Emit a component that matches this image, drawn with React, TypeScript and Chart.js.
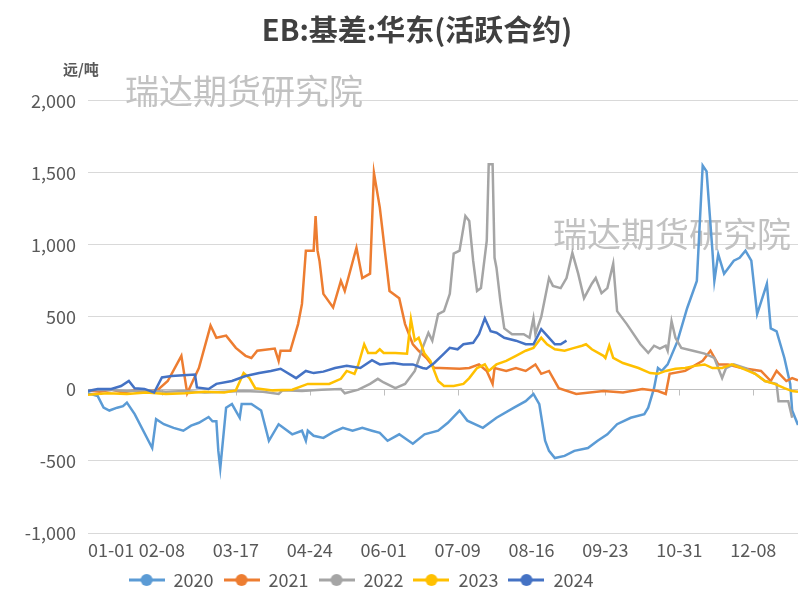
import React, { useEffect, useRef } from "react";
import { Chart, registerables } from "chart.js";

Chart.register(...registerables);

// ---------- categories (leap-year calendar, MM-DD) ----------
const monthLengths = [31, 29, 31, 30, 31, 30, 31, 31, 30, 31, 30, 31];
const dateLabels: string[] = [];
monthLengths.forEach((n, m) => {
  for (let d = 1; d <= n; d++) {
    dateLabels.push(`${String(m + 1).padStart(2, "0")}-${String(d).padStart(2, "0")}`);
  }
});
const xTickDays = [0, 38, 76, 114, 152, 190, 228, 266, 304, 342];
const xLastDay = 365;
const yTicks = [-1000, -500, 0, 500, 1000, 1500, 2000];

const title = "EB:基差:华东(活跃合约)";
const unitLabel = "远/吨";
const watermark = "瑞达期货研究院";
const seriesNames = ["2020", "2021", "2022", "2023", "2024"];
const seriesColors = ["#5B9BD5", "#ED7D31", "#A5A5A5", "#FFC000", "#4472C4"];

// ---------- series: [day of year index, value] ----------
const s2020: [number, number][] = [
  [0, -30], [5, -50], [8, -130], [11, -150], [15, -130], [18, -120], [20, -95], [24, -175],
  [33, -410], [35, -210], [39, -245], [44, -270], [49, -290], [53, -255], [57, -235], [62, -195],
  [64, -225], [66, -225], [67, -430], [68, -550], [71, -130], [74, -105], [78, -200], [79, -105],
  [84, -105], [89, -150], [93, -360], [98, -245], [105, -315], [110, -290], [112, -360], [113, -290],
  [116, -325], [121, -340], [126, -300], [131, -270], [136, -290], [141, -270], [146, -290], [150, -305],
  [154, -360], [160, -315], [167, -380], [173, -315], [180, -290], [185, -235], [191, -150], [195, -220],
  [203, -270], [210, -200], [219, -130], [225, -85], [229, -35], [232, -105], [235, -360], [237, -430],
  [240, -480], [245, -465], [250, -430], [257, -410], [262, -360], [267, -315], [272, -245], [279, -200],
  [286, -175], [288, -130], [291, 5], [293, 145], [295, 125], [298, 170], [303, 330], [308, 560],
  [313, 750], [316, 1550], [318, 1510], [321, 960], [322, 750], [324, 935], [327, 800], [332, 890],
  [335, 910], [338, 960], [341, 890], [344, 520], [349, 730], [351, 420], [354, 400], [358, 215],
  [361, 35], [362, -150], [365, -250],
];
const s2021: [number, number][] = [
  [0, -10], [6, -20], [12, -5], [18, -25], [24, -10], [30, -20], [36, -5], [41, 55], [48, 230],
  [51, -30], [57, 145], [63, 440], [66, 355], [71, 370], [76, 285], [81, 230], [84, 215], [87, 265],
  [96, 280], [98, 195], [99, 265], [104, 265], [108, 450], [110, 590], [112, 960], [116, 960],
  [117, 1200], [118, 960], [119, 890], [121, 660], [126, 565], [130, 750], [132, 680], [138, 980],
  [141, 770], [145, 800], [147, 1500], [150, 1260], [151, 1145], [155, 680], [160, 630], [163, 450],
  [167, 310], [170, 265], [174, 215], [178, 145], [181, 145], [191, 140], [196, 145], [201, 170],
  [205, 125], [208, 35], [209, 145], [215, 125], [220, 145], [225, 125], [230, 170], [233, 105],
  [237, 125], [242, 5], [251, -35], [265, -15], [275, -25], [285, 0], [293, -15], [297, -35],
  [299, 105], [307, 125], [316, 195], [320, 265], [324, 170], [329, 170], [336, 145], [346, 125],
  [351, 55], [354, 125], [359, 55], [362, 75], [365, 60],
];
const s2022: [number, number][] = [
  [0, -10], [10, -5], [20, -15], [30, -10], [40, -20], [50, -15], [60, -25], [70, -20], [80, -15],
  [90, -20], [98, -35], [100, -10], [110, -15], [120, -5], [130, 0], [132, -30], [139, -5],
  [145, 35], [149, 70], [152, 45], [158, 5], [163, 35], [168, 125], [172, 285], [175, 390],
  [177, 335], [180, 520], [183, 540], [186, 660], [188, 940], [191, 960], [194, 1200], [196, 1165],
  [198, 890], [200, 680], [202, 700], [205, 1030], [206, 1560], [208, 1560], [209, 910], [210, 840],
  [212, 610], [214, 420], [218, 380], [224, 380], [227, 355], [229, 490], [230, 380], [233, 500],
  [237, 770], [239, 715], [243, 700], [246, 770], [249, 945], [252, 800], [255, 630], [259, 730],
  [261, 770], [264, 665], [267, 700], [270, 870], [272, 540], [277, 450], [284, 310], [288, 250],
  [291, 300], [294, 280], [297, 300], [298, 265], [300, 470], [302, 355], [305, 285], [311, 265],
  [317, 245], [322, 215], [326, 75], [328, 145], [332, 170], [338, 145], [343, 105], [348, 55],
  [354, 35], [355, -85], [360, -85], [362, -200],
];
const s2023: [number, number][] = [
  [0, -40], [10, -30], [20, -35], [30, -25], [40, -35], [50, -30], [60, -20], [70, -25], [76, -10],
  [80, 110], [83, 75], [86, 5], [95, -10], [105, -5], [113, 35], [124, 35], [130, 70], [133, 125],
  [137, 105], [139, 170], [142, 310], [144, 250], [148, 250], [150, 275], [152, 250], [158, 250],
  [164, 245], [166, 485], [168, 335], [170, 355], [173, 245], [176, 195], [180, 55], [183, 20],
  [188, 20], [193, 35], [196, 75], [200, 145], [204, 170], [206, 125], [210, 170], [215, 195],
  [220, 230], [225, 265], [229, 285], [233, 355], [236, 310], [240, 275], [245, 265], [250, 285],
  [254, 300], [256, 310], [259, 275], [265, 230], [266, 215], [268, 300], [270, 215], [275, 180],
  [283, 145], [289, 110], [293, 105], [297, 125], [302, 140], [307, 145], [312, 160], [317, 170],
  [321, 145], [326, 145], [331, 170], [336, 145], [343, 105], [348, 55], [353, 35], [358, 5],
  [362, -15], [365, -20],
];
const s2024: [number, number][] = [
  [0, -15], [5, 0], [12, 0], [17, 20], [21, 55], [24, 5], [29, 0], [34, -25], [38, 80], [43, 90],
  [49, 95], [55, 100], [56, 10], [62, 0], [66, 35], [74, 55], [81, 90], [88, 110], [94, 125],
  [99, 140], [107, 75], [112, 125], [116, 110], [121, 120], [127, 145], [133, 160], [140, 145],
  [146, 200], [150, 170], [157, 180], [162, 170], [167, 170], [172, 145], [174, 140], [178, 180],
  [183, 245], [186, 285], [190, 275], [193, 310], [198, 320], [201, 380], [204, 490], [207, 400],
  [210, 390], [214, 355], [220, 335], [225, 310], [229, 310], [233, 415], [236, 370], [240, 310],
  [243, 310], [246, 335],
];
const allSeries = [s2020, s2021, s2022, s2023, s2024];

const FONT = '"Noto Sans CJK SC", "Noto Sans", sans-serif';

function makeMarker(color: string): HTMLCanvasElement {
  const c = document.createElement("canvas");
  c.width = 36;
  c.height = 14;
  const g = c.getContext("2d")!;
  g.strokeStyle = color;
  g.lineWidth = 3;
  g.beginPath();
  g.moveTo(0, 7);
  g.lineTo(36, 7);
  g.stroke();
  g.fillStyle = color;
  g.beginPath();
  g.arc(18, 7, 6, 0, Math.PI * 2);
  g.fill();
  return c;
}

const decorPlugin = {
  id: "decor",
  afterLayout(chart: any) {
    const lg = chart.legend;
    if (lg) {
      lg.left -= 41;
      lg.right -= 41;
    }
    const tb = chart.titleBlock;
    if (tb) {
      tb.left += 15;
      tb.right += 15;
    }
  },
  beforeDatasetsDraw(chart: any) {
    const { ctx, chartArea, scales } = chart;
    ctx.save();
    ctx.font = `34px ${FONT}`;
    ctx.fillStyle = "#c2c2c2";
    ctx.textBaseline = "middle";
    ctx.textAlign = "left";
    ctx.fillText(watermark, 125, 91);
    ctx.fillText(watermark, 553, 234);
    const y0 = Math.round(scales.y.getPixelForValue(0)) + 0.5;
    ctx.strokeStyle = "#bfbfbf";
    ctx.lineWidth = 1;
    ctx.beginPath();
    ctx.moveTo(chartArea.left, y0);
    ctx.lineTo(chartArea.right, y0);
    xTickDays.forEach((d) => {
      const x = Math.round(scales.x.getPixelForValue(d)) + 0.5;
      ctx.moveTo(x, y0);
      ctx.lineTo(x, y0 + 6);
    });
    ctx.stroke();
    ctx.restore();
  },
  afterDraw(chart: any) {
    const { ctx } = chart;
    ctx.save();
    ctx.font = `bold 15px ${FONT}`;
    ctx.fillStyle = "#595959";
    ctx.textBaseline = "middle";
    ctx.textAlign = "left";
    ctx.fillText(unitLabel, 63, 69);
    ctx.restore();
  },
};

export default function App() {
  const ref = useRef<HTMLCanvasElement | null>(null);
  useEffect(() => {
    document.body.style.margin = "0";
    const canvas = ref.current!;
    const chart = new Chart(canvas, {
      type: "line",
      data: {
        datasets: allSeries.map((s, i) => ({
          label: seriesNames[i],
          data: s.map(([d, v]) => ({ x: d, y: v })),
          borderColor: seriesColors[i],
          backgroundColor: seriesColors[i],
          borderWidth: 2.5,
          pointRadius: 0,
          pointStyle: makeMarker(seriesColors[i]) as any,
          tension: 0,
          order: 5 - i,
        })),
      },
      options: {
        animation: false,
        responsive: false,
        maintainAspectRatio: false,
        devicePixelRatio: 1,
        layout: { padding: { left: 0, right: 0, top: 0, bottom: -4 } },
        plugins: {
          title: {
            display: true,
            text: title,
            color: "#404040",
            font: { family: FONT, size: 29, weight: "bold", lineHeight: 1.2 },
            padding: { top: 13, bottom: 53 },
          },
          legend: {
            position: "bottom",
            labels: {
              usePointStyle: true,
              pointStyleWidth: 36,
              color: "#595959",
              font: { family: FONT, size: 18 },
              padding: 10,
              sort: (a: any, b: any) => a.datasetIndex - b.datasetIndex,
            },
          },
          tooltip: { enabled: false },
        },
        scales: {
          x: {
            type: "linear",
            min: 0,
            max: xLastDay,
            afterBuildTicks: (scale: any) => {
              scale.ticks = [...xTickDays, xLastDay].map((v) => ({ value: v }));
            },
            afterFit: (scale: any) => {
              scale.height = 28;
            },
            grid: { display: false, drawTicks: false },
            border: { display: false },
            ticks: {
              autoSkip: false,
              maxRotation: 0,
              align: "inner",
              padding: 6,
              color: "#595959",
              font: { family: FONT, size: 18 },
              callback: (v: any) => (v === xLastDay ? "" : dateLabels[v as number] ?? ""),
            },
          },
          y: {
            min: -1000,
            max: 2000,
            afterBuildTicks: (scale: any) => {
              scale.ticks = yTicks.map((v) => ({ value: v }));
            },
            afterFit: (scale: any) => {
              scale.width = 88;
            },
            grid: {
              drawTicks: false,
              color: (c: any) => (c.tick && c.tick.value === 0 ? "rgba(0,0,0,0)" : "#d9d9d9"),
              lineWidth: 1,
            },
            border: { display: false },
            ticks: {
              padding: 12,
              color: "#595959",
              font: { family: FONT, size: 18 },
              callback: (v: any) => Number(v).toLocaleString("en-US"),
            },
          },
        },
      },
      plugins: [decorPlugin],
    });
    return () => chart.destroy();
  }, []);
  return (
    <div style={{ position: "relative", width: 798, height: 595, overflow: "hidden" }}>
      <canvas ref={ref} width={804} height={595} style={{ display: "block" }} />
    </div>
  );
}
